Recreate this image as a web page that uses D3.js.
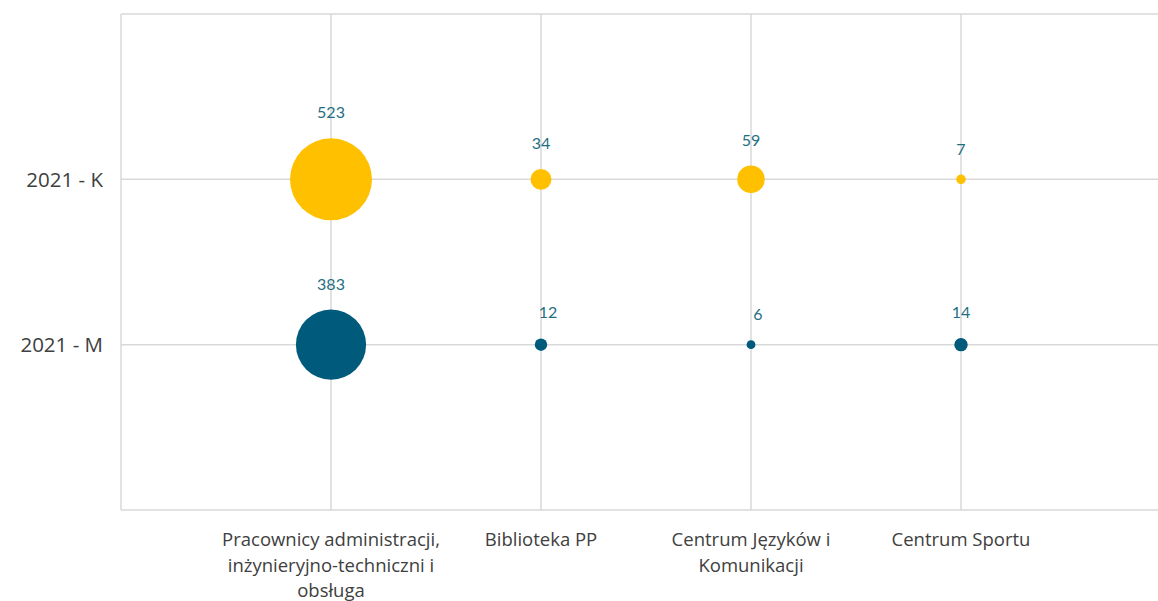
<!DOCTYPE html>
<html lang="pl">
<head>
    <meta charset="UTF-8">
    <title>Pracownicy 2021 - K / M</title>
    <script src="https://d3js.org/d3.v7.min.js"></script>
    <style>
        body {
            margin: 0;
            background-color: #ffffff;
            font-family: "Open Sans", Lato, sans-serif;
        }

        .grid line {
            stroke: #d9d9d9;
            stroke-width: 1.5px;
        }

        .tick-label {
            fill: #404040;
            font-size: 18.5px;
        }

        .row-label {
            fill: #404040;
            font-size: 20.5px;
        }

        .value-label {
            fill: #1f6e82;
            font-family: Lato, sans-serif;
            font-size: 16px;
        }
    </style>
</head>
<body>
<svg width="1158" height="601"></svg>
<script>
    // data
    const categories = [
        ["Pracownicy administracji,", "inżynieryjno-techniczni i", "obsługa"],
        ["Biblioteka PP"],
        ["Centrum Języków i", "Komunikacji"],
        ["Centrum Sportu"]
    ];
    const rows = ["2021 - M", "2021 - K"];
    const valuesK = [523, 34, 59, 7];
    const valuesM = [383, 12, 6, 14];
    const rowColors = {"2021 - K": "#ffc000", "2021 - M": "#005a7c"};

    const svg = d3.select("svg");

    // x: category i sits at i+1, y: row j sits at j+1
    const x = d3.scaleLinear().domain([0, 5]).range([121, 1171]);
    const y = d3.scaleLinear().domain([0, 3]).range([510, 14]);
    const r = d3.scaleSqrt().domain([0, 523]).range([0, 41]);

    const grid = svg.append("g").attr("class", "grid");

    // vertical lines (incl. left axis)
    grid.selectAll(".v")
        .data(d3.range(0, categories.length + 1))
        .join("line")
        .attr("x1", d => x(d)).attr("x2", d => x(d))
        .attr("y1", y(3)).attr("y2", y(0));

    // horizontal lines (incl. bottom axis)
    grid.selectAll(".h")
        .data(d3.range(0, rows.length + 2))
        .join("line")
        .attr("x1", x(0)).attr("x2", 1158)
        .attr("y1", d => y(d)).attr("y2", d => y(d));

    // row labels
    svg.selectAll(".row-label")
        .data(rows)
        .join("text")
        .attr("class", "row-label")
        .attr("x", x(0) - 18)
        .attr("y", (d, i) => y(i + 1))
        .attr("dy", "0.35em")
        .attr("text-anchor", "end")
        .text(d => d);

    // category labels
    const catLabels = svg.selectAll(".tick-label")
        .data(categories)
        .join("text")
        .attr("class", "tick-label")
        .attr("text-anchor", "middle")
        .attr("y", 546);
    catLabels.selectAll("tspan")
        .data((d, i) => d.map(line => ({line, i})))
        .join("tspan")
        .attr("x", d => x(d.i + 1))
        .attr("dy", (d, k) => k === 0 ? 0 : 25.5)
        .text(d => d.line);

    const points = [];
    valuesM.forEach((v, i) => points.push({row: "2021 - M", j: 1, i, v}));
    valuesK.forEach((v, i) => points.push({row: "2021 - K", j: 2, i, v}));

    svg.selectAll(".bubble")
        .data(points)
        .join("circle")
        .attr("class", "bubble")
        .attr("cx", d => x(d.i + 1))
        .attr("cy", d => y(d.j))
        .attr("r", d => r(d.v))
        .attr("fill", d => rowColors[d.row]);

    svg.selectAll(".value-label")
        .data(points)
        .join("text")
        .attr("class", "value-label")
        .attr("text-anchor", "middle")
        .attr("x", d => x(d.i + 1) + (d.v < 20 && d.row === "2021 - M" && d.i > 0 && d.i < 3 ? 7 : 0))
        .attr("y", d => y(d.j) - r(d.v) - 20)
        .text(d => d.v);
</script>
</body>
</html>
